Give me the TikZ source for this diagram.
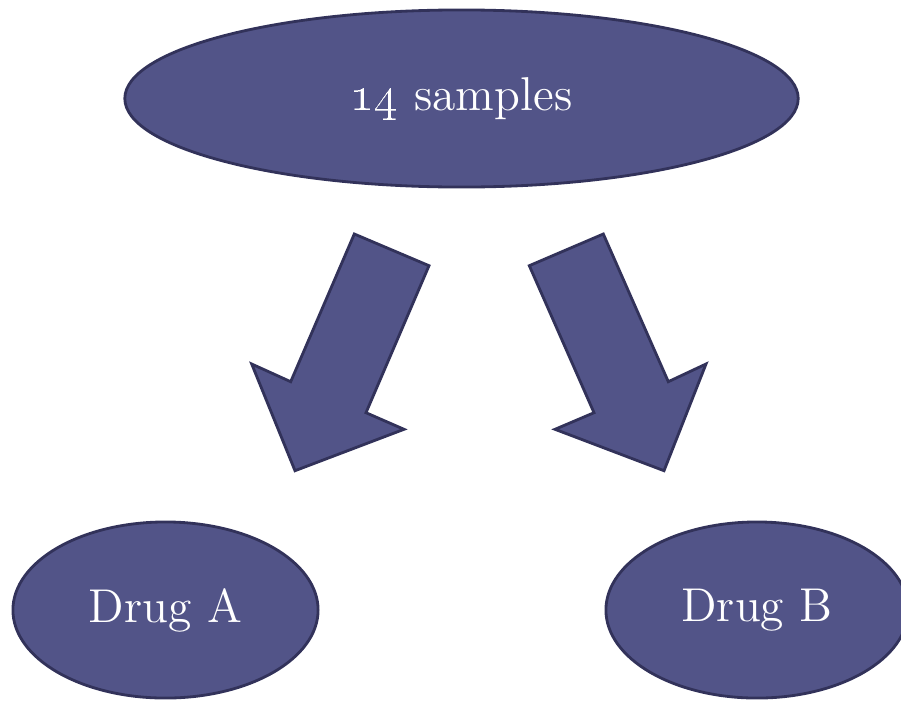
\documentclass[tikz,border=0pt]{standalone}
\usepackage{tikz}
\usetikzlibrary{shapes.geometric}

\definecolor{bluefill}{RGB}{82,84,136}
\definecolor{blueline}{RGB}{50,50,90}

\tikzset{
  blob/.style={ellipse, draw=blueline, fill=bluefill, line width=0.8pt,
    inner sep=0pt, text=white, font=\fontsize{13.5}{16}\selectfont},
  blockarrow/.style={draw=blueline, fill=bluefill, line width=0.8pt, line join=miter}
}

\begin{document}
\begin{tikzpicture}[x=0.01cm, y=-0.01cm]
\useasboundingbox (0,0) rectangle (901,700);
\clip (0,0) rectangle (901,700);
% groups
\node [blob, minimum width=6.73cm, minimum height=1.77cm] (samples) at (461.5,98.5) {\oldstylenums{14} samples};
\node [blob, minimum width=3.05cm, minimum height=1.76cm] (druga) at (165.5,610) {Drug A};
\node [blob, minimum width=3.02cm, minimum height=1.76cm] (drugb) at (757,610) {Drug B};
% split arrows
\draw [blockarrow] (354.3,234) -- (429,265.7) -- (366,412.7) -- (404,429.3)
  -- (295,470.7) -- (251.7,364) -- (290.7,381.7) -- cycle;
\draw [blockarrow] (603.3,234) -- (529.3,265.7) -- (594,412.7) -- (555,429.3)
  -- (664,470.7) -- (706,364) -- (668.3,381.7) -- cycle;
\end{tikzpicture}
\end{document}
